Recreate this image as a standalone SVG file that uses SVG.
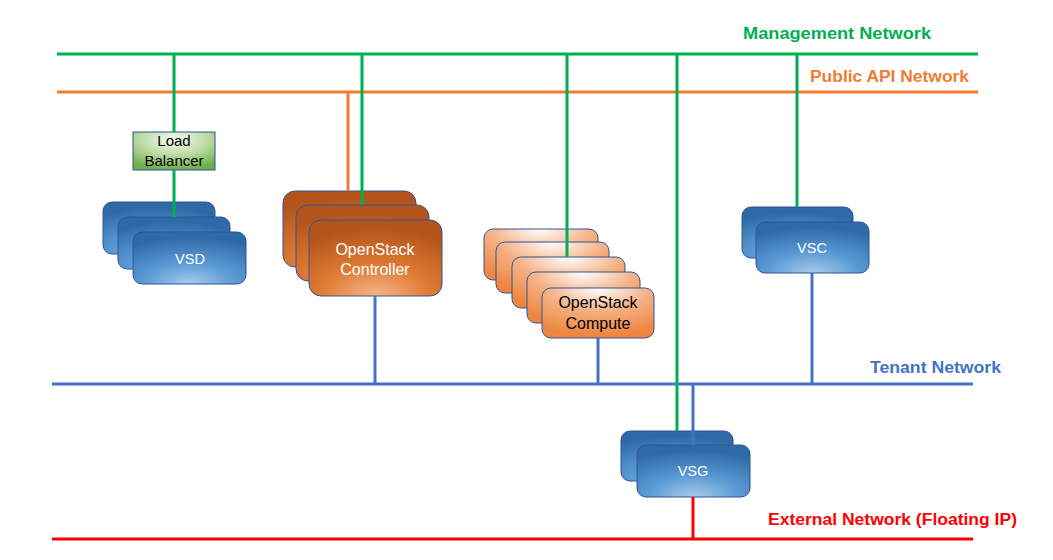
<svg xmlns="http://www.w3.org/2000/svg" width="1053" height="560" viewBox="0 0 1053 560">
<defs>
<radialGradient id="gBlue" cx="0.5" cy="1" r="0.9" fx="0.5" fy="1">
<stop offset="0" stop-color="#A9CBEB"/>
<stop offset="0.45" stop-color="#5B9BD5"/>
<stop offset="1" stop-color="#2E6AA6"/>
</radialGradient>
<radialGradient id="gCtrl" cx="0.5" cy="1" r="0.9" fx="0.5" fy="1">
<stop offset="0" stop-color="#F6B68C"/>
<stop offset="0.45" stop-color="#E07B34"/>
<stop offset="1" stop-color="#B4531A"/>
</radialGradient>
<radialGradient id="gComp" cx="0.5" cy="0" r="0.95" fx="0.5" fy="0">
<stop offset="0" stop-color="#FFFFFF"/>
<stop offset="0.5" stop-color="#F4AE80"/>
<stop offset="1" stop-color="#EE8640"/>
</radialGradient>
<radialGradient id="gLB" cx="0.5" cy="0.2" r="0.8" fx="0.5" fy="0.2">
<stop offset="0" stop-color="#F4FAF0"/>
<stop offset="0.5" stop-color="#BFDDA8"/>
<stop offset="1" stop-color="#6FAE48"/>
</radialGradient>
</defs>
<style>
.blue{fill:url(#gBlue);stroke:#2F5597;stroke-width:1}
.ctrl{fill:url(#gCtrl);stroke:#2F5597;stroke-width:1}
.comp{fill:url(#gComp);stroke:#2F5597;stroke-width:1}
.lb{fill:url(#gLB);stroke:#2F5597;stroke-width:1}
.wt{font-family:"Liberation Sans",Arial,sans-serif;font-size:14.5px;fill:#FFFFFF;text-anchor:middle}
.wt2{font-family:"Liberation Sans",Arial,sans-serif;font-size:16px;fill:#FFFFFF;text-anchor:middle}
.bt{font-family:"Liberation Sans",Arial,sans-serif;font-size:15px;fill:#000000;text-anchor:middle}
.bt2{font-family:"Liberation Sans",Arial,sans-serif;font-size:16px;fill:#000000;text-anchor:middle}
.lbl{font-family:"Liberation Sans",Arial,sans-serif;font-size:16px;font-weight:bold}
.g{stroke:#00B050;stroke-width:3;fill:none}
.o{stroke:#ED7D31;stroke-width:3;fill:none}
.b{stroke:#4472C4;stroke-width:3;fill:none}
.r{stroke:#FF0000;stroke-width:3;fill:none}
</style>
<rect width="1053" height="560" fill="#FFFFFF"/>

<g id="lb">
<rect class="lb" x="133" y="132" width="82" height="38"/>
<text class="bt" x="174" y="146">Load</text>
<text class="bt" x="174" y="166">Balancer</text>
</g>

<g id="vsd">
<rect class="blue" x="103" y="202" width="112" height="52" rx="9"/>
<rect class="blue" x="118" y="217" width="112" height="52" rx="9"/>
<rect class="blue" x="133" y="232" width="113" height="52" rx="9"/>
<text class="wt" x="190" y="264">VSD</text>
</g>

<g id="controller">
<rect class="ctrl" x="283" y="191" width="133" height="76" rx="12"/>
<rect class="ctrl" x="296" y="205" width="133" height="76" rx="12"/>
<rect class="ctrl" x="309" y="220" width="133" height="76" rx="12"/>
<text class="wt2" x="375" y="255">OpenStack</text>
<text class="wt2" x="375" y="275">Controller</text>
</g>

<g id="compute">
<rect class="comp" x="484" y="229" width="114" height="51" rx="9"/>
<rect class="comp" x="496" y="242" width="113" height="51" rx="9"/>
<rect class="comp" x="512" y="257" width="113" height="51" rx="9"/>
<rect class="comp" x="527" y="272" width="113" height="51" rx="9"/>
<rect class="comp" x="542" y="288" width="112" height="50" rx="9"/>
<text class="bt2" x="598" y="308">OpenStack</text>
<text class="bt2" x="598" y="329">Compute</text>
</g>

<g id="vsc">
<rect class="blue" x="742" y="207" width="111" height="51" rx="9"/>
<rect class="blue" x="756" y="222" width="113" height="51" rx="9"/>
<text class="wt" x="812" y="253">VSC</text>
</g>

<g id="vsg">
<rect class="blue" x="621" y="431" width="112" height="50" rx="9"/>
<rect class="blue" x="637" y="445" width="113" height="52" rx="9"/>
<text class="wt" x="693" y="476">VSG</text>
</g>

<g id="connectors">
<line class="g" x1="57" y1="54" x2="978" y2="54"/>
<line class="o" x1="57" y1="92" x2="978" y2="92"/>
<line class="b" x1="52" y1="384" x2="973" y2="384"/>
<line class="r" x1="52" y1="539" x2="973" y2="539"/>
<line class="g" x1="174" y1="54" x2="174" y2="132"/>
<line class="g" x1="174" y1="170" x2="174" y2="217"/>
<line class="o" x1="348" y1="92" x2="348" y2="191"/>
<line class="g" x1="362" y1="54" x2="362" y2="205"/>
<line class="b" x1="375" y1="296" x2="375" y2="384"/>
<line class="g" x1="567" y1="54" x2="567" y2="257"/>
<line class="b" x1="598" y1="338" x2="598" y2="384"/>
<line class="g" x1="677" y1="54" x2="677" y2="431"/>
<line class="b" x1="693" y1="384" x2="693" y2="445"/>
<line class="r" x1="693" y1="497" x2="693" y2="539"/>
<line class="g" x1="797" y1="54" x2="797" y2="207"/>
<line class="b" x1="812" y1="273" x2="812" y2="384"/>
</g>

<g id="labels">
<text class="lbl" x="743" y="39" fill="#00B050" textLength="188" lengthAdjust="spacingAndGlyphs">Management Network</text>
<text class="lbl" x="810" y="82" fill="#ED7D31" textLength="159" lengthAdjust="spacingAndGlyphs">Public API Network</text>
<text class="lbl" x="870" y="373" fill="#4472C4" textLength="131" lengthAdjust="spacingAndGlyphs">Tenant Network</text>
<text class="lbl" x="768" y="525" fill="#FF0000" textLength="249" lengthAdjust="spacingAndGlyphs">External Network (Floating IP)</text>
</g>
</svg>
